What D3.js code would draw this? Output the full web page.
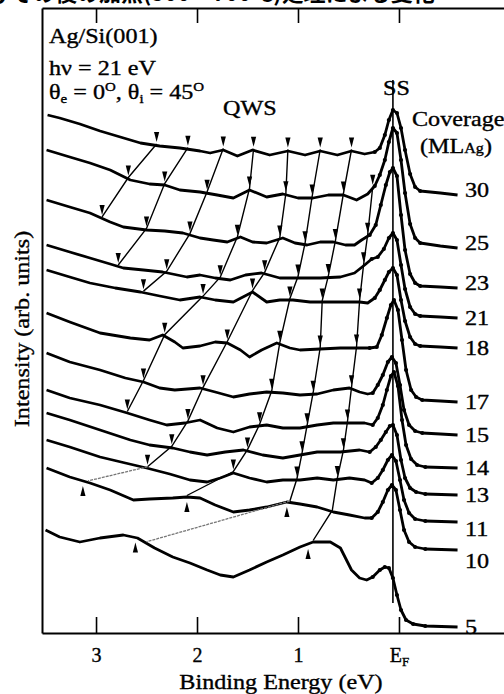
<!DOCTYPE html>
<html>
<head>
<meta charset="utf-8">
<script src="https://cdn.jsdelivr.net/npm/d3@7"></script>
<style>
body { margin: 0; background: #fff; }
svg { display: block; }
text { font-family: "Liberation Serif", "DejaVu Serif", serif; fill: #000; }
.lbl { stroke: #000; stroke-width: 0.35px; }
</style>
</head>
<body>
<svg id="chart" width="504" height="694"></svg>
<script>
// coverage of each spectrum, top to bottom (ML Ag)
const coverages = [30, 25, 23, 21, 18, 17, 15, 14, 13, 11, 10, 5];

// spectra: [binding energy (eV), intensity (arb. units)]
const spec30 = [[3.48,103.6],[3.36,103.0],[3.16,101.8],[2.96,100.4],[2.76,99.2],[2.56,98.0],[2.37,97.4],[2.17,97.0],[1.97,96.4],[1.87,96.0],[1.74,96.6],[1.60,95.4],[1.45,96.6],[1.28,95.6],[1.10,96.4],[0.93,95.6],[0.78,96.4],[0.61,95.6],[0.47,96.4],[0.34,95.8],[0.24,96.2],[0.19,97.0],[0.14,99.6],[0.10,102.6],[0.06,104.6],[0.02,104.0],[-0.02,101.0],[-0.06,96.6],[-0.11,91.8],[-0.16,89.2],[-0.21,88.4],[-0.41,88.0],[-0.58,87.6]];
const spec25 = [[3.49,96.6],[3.26,95.2],[3.06,94.0],[2.86,92.6],[2.66,90.6],[2.47,89.8],[2.32,89.6],[2.17,88.6],[1.97,88.2],[1.80,87.6],[1.64,87.0],[1.48,88.6],[1.31,87.2],[1.15,87.8],[1.00,87.0],[0.85,87.0],[0.70,87.6],[0.55,87.6],[0.42,86.6],[0.31,87.8],[0.24,89.4],[0.19,91.6],[0.14,94.6],[0.10,98.2],[0.06,101.0],[0.02,100.0],[-0.02,94.6],[-0.06,88.0],[-0.11,81.8],[-0.16,79.0],[-0.21,78.0],[-0.41,77.4],[-0.58,77.0]];
const spec23 = [[3.49,86.6],[3.26,85.2],[3.06,84.0],[2.86,82.2],[2.73,81.2],[2.50,80.6],[2.32,80.4],[2.14,80.0],[1.97,79.0],[1.84,78.6],[1.70,78.2],[1.57,79.2],[1.45,78.2],[1.31,78.0],[1.15,79.0],[1.03,78.0],[0.91,77.6],[0.78,78.2],[0.65,78.2],[0.53,77.6],[0.44,77.6],[0.37,78.6],[0.29,79.6],[0.23,81.6],[0.18,85.6],[0.13,89.6],[0.09,92.2],[0.06,93.0],[0.02,91.4],[-0.02,83.6],[-0.06,76.6],[-0.11,71.8],[-0.16,70.0],[-0.21,69.4],[-0.41,69.2],[-0.58,69.0]];
const spec21 = [[3.49,77.6],[3.26,76.2],[3.06,75.0],[2.86,73.8],[2.73,73.0],[2.53,72.6],[2.34,72.2],[2.10,71.2],[1.97,71.6],[1.82,71.0],[1.67,70.6],[1.52,71.6],[1.36,72.0],[1.18,71.0],[1.00,71.0],[0.78,71.0],[0.58,71.2],[0.44,72.0],[0.34,73.6],[0.27,74.8],[0.21,75.2],[0.15,76.8],[0.10,79.0],[0.06,80.0],[0.02,78.6],[-0.02,73.6],[-0.06,68.8],[-0.11,65.2],[-0.16,63.8],[-0.21,63.4],[-0.41,63.2],[-0.58,63.0]];
const spec18 = [[3.49,72.6],[3.26,71.2],[3.06,70.0],[2.81,69.0],[2.56,68.2],[2.37,67.4],[2.17,66.6],[1.97,67.2],[1.82,66.6],[1.64,66.2],[1.45,68.2],[1.31,66.2],[1.18,66.6],[1.05,66.6],[0.88,66.2],[0.71,66.2],[0.53,66.2],[0.39,66.2],[0.31,66.0],[0.24,67.0],[0.19,68.6],[0.14,70.6],[0.10,72.2],[0.06,73.0],[0.02,71.6],[-0.02,66.6],[-0.06,62.4],[-0.11,59.2],[-0.16,57.8],[-0.21,57.4],[-0.41,57.2],[-0.58,57.0]];
const spec17 = [[3.49,64.0],[3.26,62.2],[2.96,60.0],[2.66,59.0],[2.47,58.6],[2.34,59.6],[2.22,58.2],[2.14,57.0],[1.97,57.4],[1.82,58.2],[1.70,58.0],[1.57,56.6],[1.48,55.2],[1.36,56.6],[1.21,58.0],[1.08,57.0],[0.98,56.6],[0.78,56.8],[0.58,57.0],[0.39,57.0],[0.29,57.0],[0.22,57.2],[0.17,59.6],[0.12,63.0],[0.08,65.6],[0.05,66.6],[0.01,64.6],[-0.03,58.6],[-0.07,52.6],[-0.12,48.6],[-0.17,47.2],[-0.23,46.6],[-0.41,46.4],[-0.58,46.2]];
const spec15 = [[3.49,56.0],[3.26,54.2],[2.96,52.6],[2.71,51.0],[2.53,50.2],[2.37,49.0],[2.22,48.6],[1.97,49.0],[1.82,48.2],[1.64,47.2],[1.48,47.8],[1.31,48.2],[1.15,48.0],[0.98,47.6],[0.81,47.8],[0.65,48.6],[0.49,49.0],[0.39,48.2],[0.31,47.8],[0.26,48.0],[0.21,49.6],[0.16,51.6],[0.11,54.2],[0.07,55.2],[0.03,54.0],[-0.01,49.6],[-0.05,44.6],[-0.10,41.6],[-0.16,40.4],[-0.23,40.0],[-0.41,39.8],[-0.58,39.6]];
const spec14 = [[3.49,48.6],[3.26,47.0],[2.96,45.6],[2.69,44.0],[2.47,42.6],[2.30,41.6],[2.12,42.0],[1.97,42.6],[1.80,41.0],[1.64,40.2],[1.48,41.2],[1.31,41.6],[1.15,41.0],[0.98,41.0],[0.81,41.6],[0.65,42.0],[0.49,42.0],[0.34,42.0],[0.26,41.6],[0.21,43.0],[0.16,45.6],[0.12,48.6],[0.08,51.4],[0.05,52.2],[0.01,49.4],[-0.03,42.6],[-0.07,37.6],[-0.12,34.8],[-0.18,33.6],[-0.26,33.2],[-0.58,33.0]];
const spec13 = [[3.49,44.0],[3.26,42.6],[2.96,40.6],[2.66,38.6],[2.47,37.6],[2.24,37.0],[2.07,36.2],[1.90,35.6],[1.72,36.2],[1.54,36.6],[1.35,35.6],[1.15,35.0],[0.98,35.6],[0.81,36.2],[0.58,36.2],[0.39,36.6],[0.29,36.2],[0.23,37.2],[0.18,38.6],[0.13,40.2],[0.09,41.4],[0.06,41.6],[0.02,39.6],[-0.02,34.6],[-0.06,31.0],[-0.11,29.0],[-0.17,28.2],[-0.26,27.8],[-0.58,27.6]];
const spec11 = [[3.49,38.6],[3.26,37.2],[2.96,35.2],[2.71,34.0],[2.50,33.0],[2.27,31.8],[2.07,30.6],[1.90,30.2],[1.77,31.0],[1.64,32.0],[1.48,31.0],[1.31,30.2],[1.15,30.6],[0.98,30.6],[0.81,31.0],[0.65,30.6],[0.49,31.0],[0.34,30.6],[0.27,30.0],[0.21,31.0],[0.16,32.6],[0.11,34.6],[0.07,35.6],[0.03,34.4],[-0.01,30.6],[-0.05,26.6],[-0.10,24.0],[-0.16,22.8],[-0.26,22.4],[-0.58,22.2]];
const spec10 = [[3.49,33.0],[3.26,31.2],[3.06,30.0],[2.86,28.6],[2.63,26.6],[2.47,26.8],[2.24,27.0],[2.10,27.2],[1.97,27.0],[1.82,25.6],[1.64,24.2],[1.48,24.6],[1.31,25.2],[1.11,26.2],[0.98,25.8],[0.81,25.2],[0.65,24.2],[0.49,23.6],[0.34,23.0],[0.27,23.0],[0.21,24.2],[0.16,26.2],[0.11,28.6],[0.07,29.6],[0.03,28.6],[-0.01,24.6],[-0.05,20.6],[-0.10,18.2],[-0.16,17.2],[-0.26,16.8],[-0.58,16.6]];
const spec5 = [[3.50,20.6],[3.36,19.2],[3.16,18.2],[2.96,19.0],[2.73,19.6],[2.59,19.0],[2.42,17.0],[2.24,15.2],[2.07,14.0],[1.90,12.6],[1.77,11.6],[1.64,11.2],[1.48,12.6],[1.31,14.2],[1.15,15.6],[0.98,17.2],[0.85,18.2],[0.68,18.2],[0.58,17.0],[0.53,15.0],[0.47,12.6],[0.39,11.0],[0.32,10.6],[0.26,11.2],[0.19,12.6],[0.14,13.2],[0.10,13.0],[0.06,11.0],[0.02,7.6],[-0.02,4.6],[-0.07,2.6],[-0.14,1.8],[-0.26,1.4],[-0.58,1.2]];
const spectra = [spec30, spec25, spec23, spec21, spec18, spec17, spec15, spec14, spec13, spec11, spec10, spec5];

// quantum-well state ladders: [coverage, binding energy] of each marked peak
const qwsA = [[30,2.40],[25,2.68],[23,2.94]];
const qwsB = [[30,2.09],[25,2.32],[23,2.50],[21,2.78]];
const qwsC = [[30,1.74],[25,1.90],[23,2.07],[21,2.30],[18,2.53]];
const qwsD = [[30,1.44],[25,1.48],[23,1.60],[21,1.77],[18,1.94],[17,2.32],[15,2.53],[14,2.69]];
const qwsE = [[30,1.10],[25,1.12],[23,1.18],[21,1.33],[18,1.45],[17,1.70],[15,1.94],[14,2.09],[13,2.25],[11,2.49]];
const qwsF = [[30,0.78],[25,0.86],[23,0.93],[21,1.00],[18,1.08],[17,1.18],[15,1.26],[14,1.38],[13,1.50],[11,1.64],[10,2.10]];
const qwsG = [[30,0.47],[25,0.55],[23,0.63],[21,0.70],[18,0.76],[17,0.78],[15,0.85],[14,0.91],[13,0.96],[11,1.01],[10,1.08]];
const qwsH = [[25,0.26],[23,0.31],[21,0.35],[18,0.39],[17,0.42],[15,0.47],[14,0.51],[13,0.55],[11,0.61],[10,0.66],[5,0.85]];
const qwsLines = [qwsA, qwsB, qwsC, qwsD, qwsE, qwsF, qwsG, qwsH];
// faint links to the broad low-coverage peaks
const qwsTails = [[[11,2.49],[10,3.08]], [[10,1.08],[5,2.50]]];
// peaks marked from below
const upMarks = [[10,3.13],[10,2.10],[10,1.11],[5,2.61],[5,0.90]];

// surface state position and extent of its guide line
const ssEnergy = 0.06;
const ssSpan = [6, 110.6];

const energyTicks = [3, 2, 1, 0];
const tickLabels = ["3", "2", "1", "E"];

const svg = d3.select("#chart");
const x = d3.scaleLinear().domain([3.535, -1.04]).range([42, 504]);
const y = d3.scaleLinear().domain([0, 125]).range([633, 8]);

function valueAt(cov, e) {
    const s = spectra[coverages.indexOf(cov)];
    for (let i = 0; i < s.length - 1; i++) {
        const [e0, v0] = s[i], [e1, v1] = s[i + 1];
        if (e <= e0 && e >= e1) return v0 + (v1 - v0) * (e0 - e) / (e0 - e1);
    }
    return s[0][1];
}

// text helper, the scan is a bit wider than the font
function label(px, py, str, size, anchor) {
    return svg.append("text")
        .attr("class", "lbl")
        .attr("transform", `translate(${px},${py}) scale(1.15,1)`)
        .attr("text-anchor", anchor || "start")
        .style("font-size", size + "px")
        .text(str);
}

// caption line of the page above, cut by the top edge as in the scan
svg.append("text")
    .attr("x", -33).attr("y", 1)
    .style("font-family", '"Noto Sans CJK JP"')
    .style("font-weight", "bold")
    .style("font-size", "22px")
    .text("及びその後の加熱(500～700℃)処理による変化");

// frame
const bottomAxis = svg.append("g")
    .attr("transform", "translate(0,633)")
    .call(d3.axisBottom(x).tickValues(energyTicks).tickSizeInner(-16).tickSizeOuter(0)
        .tickFormat((d, i) => tickLabels[i]));
bottomAxis.select(".domain").attr("stroke-width", 2);
bottomAxis.selectAll(".tick line").attr("stroke-width", 1.6);
bottomAxis.selectAll(".tick text")
    .attr("class", "lbl")
    .attr("y", 29).attr("dy", null).attr("fill", "#000")
    .style("font-family", '"Liberation Serif", serif')
    .style("font-size", "20px");
bottomAxis.selectAll(".tick text").filter(d => d === 0)
    .append("tspan").attr("dy", 4).style("font-size", "13px").text("F");

const topAxis = svg.append("g")
    .attr("transform", "translate(0,8)")
    .call(d3.axisTop(x).tickValues(energyTicks).tickSizeInner(-15).tickSizeOuter(0).tickFormat(""));
topAxis.select(".domain").attr("stroke-width", 2);
topAxis.selectAll(".tick line").attr("stroke-width", 1.6);

const leftAxis = svg.append("g")
    .attr("transform", "translate(42,0)")
    .call(d3.axisLeft(y).tickValues([]).tickSizeOuter(0));
leftAxis.select(".domain").attr("stroke-width", 2);

// surface state guide
svg.append("line")
    .attr("x1", x(ssEnergy)).attr("x2", x(ssEnergy))
    .attr("y1", y(ssSpan[0])).attr("y2", y(ssSpan[1]))
    .attr("stroke", "#000").attr("stroke-width", 1.6);

// spectra
const line = d3.line().x(d => x(d[0])).y(d => y(d[1]));
const curves = svg.append("g");
spectra.forEach((s, i) => {
    curves.append("path")
        .attr("d", line(s))
        .attr("fill", "none")
        .attr("stroke", "#000")
        .attr("stroke-width", 2.8)
        .attr("stroke-linejoin", "round");
    curves.append("g").selectAll("circle")
        .data(s.filter(d => d[0] <= 0.3 && d[0] >= -0.27))
        .join("circle")
        .attr("cx", d => x(d[0]))
        .attr("cy", d => y(d[1]))
        .attr("r", 2.1)
        .attr("fill", "#000");

    const last = s[s.length - 1];
    const cov = coverages[i];
    let dy = 7;
    if (cov >= 23) dy = 2;
    if (cov === 11) dy = 14;
    if (cov === 10) dy = 18;
    label(465, y(last[1]) + dy, String(cov), 21);
});

// QWS ladders
const qPoint = p => [x(p[1]), y(valueAt(p[0], p[1])) - 1.5];
const qLine = d3.line();
const qws = svg.append("g");
qwsLines.forEach(q => {
    qws.append("path")
        .attr("d", qLine(q.map(qPoint)))
        .attr("fill", "none")
        .attr("stroke", "#000")
        .attr("stroke-width", 1.4);
    q.filter(p => p[0] !== 10 && p[0] !== 5).forEach(p => {
        const [px, py] = qPoint(p);
        qws.append("path")
            .attr("d", `M${px - 2.6},${py - 12}L${px + 2.6},${py - 12}L${px},${py - 2}Z`)
            .attr("fill", "#000");
    });
});
qwsTails.forEach(t => {
    qws.append("path")
        .attr("d", qLine(t.map(qPoint)))
        .attr("fill", "none")
        .attr("stroke", "#777")
        .attr("stroke-width", 1.3)
        .attr("stroke-dasharray", "3,1");
});
upMarks.forEach(p => {
    const px = x(p[1]), py = y(valueAt(p[0], p[1]));
    qws.append("path")
        .attr("d", `M${px - 2.6},${py + 15}L${px + 2.6},${py + 15}L${px},${py + 5}Z`)
        .attr("fill", "#000");
});

// annotations
label(49, 43, "Ag/Si(001)", 21);
label(49, 75, "hν = 21 eV", 21);
const th = label(49, 99, "", 21);
th.append("tspan").text("θ");
th.append("tspan").attr("dy", 4).style("font-size", "13px").text("e");
th.append("tspan").attr("dy", -4).text(" = 0");
th.append("tspan").attr("dy", -8).style("font-size", "13px").text("O");
th.append("tspan").attr("dy", 8).text(", θ");
th.append("tspan").attr("dy", 4).style("font-size", "13px").text("i");
th.append("tspan").attr("dy", -4).text(" = 45");
th.append("tspan").attr("dy", -8).style("font-size", "13px").text("O");
label(223, 115, "QWS", 21);
label(383, 95, "SS", 21);
label(412, 126, "Coverage", 21);
const ml = label(420, 153, "(ML", 21);
ml.append("tspan").style("font-size", "14px").text("Ag");
ml.append("tspan").text(")");

label(281, 689, "Binding Energy (eV)", 21, "middle");
svg.append("text")
    .attr("class", "lbl")
    .attr("transform", "translate(29,329) rotate(-90) scale(1.15,1)")
    .attr("text-anchor", "middle")
    .style("font-size", "21px")
    .text("Intensity (arb. units)");
</script>
</body>
</html>
